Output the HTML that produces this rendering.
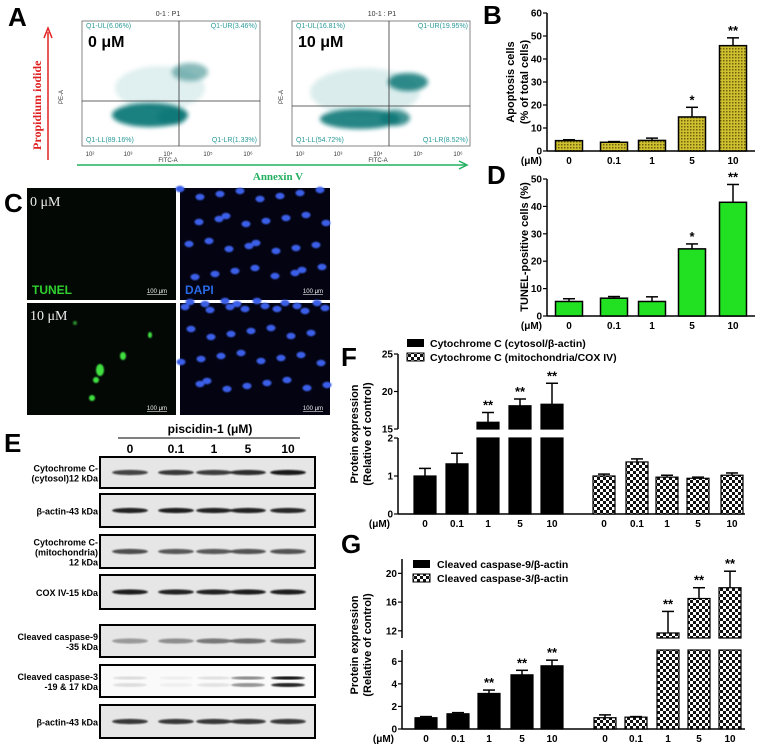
<!DOCTYPE html>
<html><head><meta charset="utf-8"><style>
html,body{margin:0;padding:0;background:#fff}
svg{display:block;font-family:"Liberation Sans",sans-serif}
</style></head><body>
<svg id="fig" width="759" height="746" viewBox="0 0 759 746" xmlns="http://www.w3.org/2000/svg">
<defs>
<pattern id="olive" width="3" height="3" patternUnits="userSpaceOnUse"><rect width="3" height="3" fill="#cfc030"/><rect width="1.5" height="1.5" fill="#6e620c"/></pattern>
<pattern id="check" width="6" height="6" patternUnits="userSpaceOnUse"><rect width="6" height="6" fill="#fff"/><rect width="3" height="3" fill="#111"/><rect x="3" y="3" width="3" height="3" fill="#111"/></pattern>
<filter id="blur2"><feGaussianBlur stdDeviation="2"/></filter>
<filter id="blur1"><feGaussianBlur stdDeviation="0.8"/></filter>
</defs>

<!-- Panel A -->
<g>
<text x="8" y="26" font-size="26" font-weight="bold">A</text>
<line x1="48" y1="160" x2="48" y2="32" stroke="#e02020" stroke-width="1.5"/>
<path d="M44,38 L48,28 L52,38" fill="none" stroke="#e02020" stroke-width="1.5"/>
<text transform="translate(41,150) rotate(-90)" font-family="Liberation Serif,serif" font-size="12" font-weight="bold" fill="#e02020">Propidium  iodide</text>
<line x1="77" y1="165" x2="465" y2="165" stroke="#22b060" stroke-width="1.5"/>
<path d="M459,161 L467,165 L459,169" fill="none" stroke="#22b060" stroke-width="1.5"/>
<text x="278" y="180" text-anchor="middle" font-family="Liberation Serif,serif" font-size="11" font-weight="bold" fill="#22b060">Annexin V</text>

<g>
<text x="168" y="16" text-anchor="middle" font-size="7" fill="#333">0-1 : P1</text>
<rect x="82" y="21" width="178" height="125" fill="#fff" stroke="#666" stroke-width="0.8"/>
<g filter="url(#blur2)" fill="#107878">
<ellipse cx="160" cy="88" rx="45" ry="22" opacity="0.12"/>
<ellipse cx="150" cy="115" rx="38" ry="12" opacity="0.95"/>
<ellipse cx="172" cy="117" rx="14" ry="8" opacity="0.8"/>
<ellipse cx="190" cy="72" rx="18" ry="9" opacity="0.5"/>
</g>
<line x1="179" y1="21" x2="179" y2="146" stroke="#333" stroke-width="0.8"/>
<line x1="82" y1="101" x2="260" y2="101" stroke="#333" stroke-width="0.8"/>
<text x="86" y="28" font-size="7" fill="#2a9a9a">Q1-UL(6.06%)</text>
<text x="257" y="28" font-size="7" fill="#2a9a9a" text-anchor="end">Q1-UR(3.46%)</text>
<text x="86" y="142" font-size="7" fill="#2a9a9a">Q1-LL(89.16%)</text>
<text x="257" y="142" font-size="7" fill="#2a9a9a" text-anchor="end">Q1-LR(1.33%)</text>
<text x="88" y="47" font-size="16" font-weight="bold">0 μM</text>
<text transform="translate(63,104) rotate(-90)" font-size="6" fill="#333">PE-A</text>
<g font-size="6" fill="#333" text-anchor="middle"><text x="90" y="156">10²</text><text x="128" y="156">10³</text><text x="168" y="156">10⁴</text><text x="208" y="156">10⁵</text><text x="248" y="156">10⁶</text><text x="168" y="162">FITC-A</text></g>
</g>

<g>
<text x="382" y="16" text-anchor="middle" font-size="7" fill="#333">10-1 : P1</text>
<rect x="292" y="21" width="178" height="125" fill="#fff" stroke="#666" stroke-width="0.8"/>
<g filter="url(#blur2)" fill="#107878">
<ellipse cx="365" cy="92" rx="55" ry="24" opacity="0.14"/>
<ellipse cx="360" cy="119" rx="40" ry="10" opacity="0.9"/>
<ellipse cx="395" cy="118" rx="15" ry="8" opacity="0.8"/>
<ellipse cx="408" cy="82" rx="20" ry="9" opacity="0.85"/>
</g>
<line x1="389" y1="21" x2="389" y2="146" stroke="#333" stroke-width="0.8"/>
<line x1="292" y1="106" x2="470" y2="106" stroke="#333" stroke-width="0.8"/>
<text x="296" y="28" font-size="7" fill="#2a9a9a">Q1-UL(16.81%)</text>
<text x="468" y="28" font-size="7" fill="#2a9a9a" text-anchor="end">Q1-UR(19.95%)</text>
<text x="296" y="142" font-size="7" fill="#2a9a9a">Q1-LL(54.72%)</text>
<text x="468" y="142" font-size="7" fill="#2a9a9a" text-anchor="end">Q1-LR(8.52%)</text>
<text x="298" y="47" font-size="16" font-weight="bold">10 μM</text>
<text transform="translate(283,104) rotate(-90)" font-size="6" fill="#333">PE-A</text>
<g font-size="6" fill="#333" text-anchor="middle"><text x="300" y="156">10²</text><text x="338" y="156">10³</text><text x="378" y="156">10⁴</text><text x="418" y="156">10⁵</text><text x="458" y="156">10⁶</text><text x="378" y="162">FITC-A</text></g>
</g>
</g>

<!-- Panel C -->
<g>
<text x="4" y="212" font-size="26" font-weight="bold">C</text>
<rect x="27" y="188" width="149" height="112" fill="#030805"/>
<rect x="180" y="188" width="150" height="112" fill="#030312"/>
<rect x="27" y="303" width="149" height="112" fill="#030805"/>
<rect x="180" y="303" width="150" height="112" fill="#030312"/>
<g id="nuclei" fill="#3a5ee8" filter="url(#blur1)"></g>
<g fill="#40e040" filter="url(#blur1)">
<ellipse cx="100" cy="370" rx="4" ry="6"/><ellipse cx="96" cy="380" rx="3" ry="3"/><ellipse cx="123" cy="356" rx="3" ry="4"/><ellipse cx="150" cy="335" rx="2" ry="3"/><ellipse cx="92" cy="398" rx="3" ry="3"/><ellipse cx="75" cy="323" rx="2" ry="2" opacity="0.6"/>
</g>
<text x="30" y="206" font-family="Liberation Serif,serif" font-size="14" fill="#eee">0 μM</text>
<text x="30" y="320" font-family="Liberation Serif,serif" font-size="14" fill="#eee">10 μM</text>
<text x="32" y="294" font-size="12" font-weight="bold" fill="#30d030">TUNEL</text>
<text x="185" y="294" font-size="12" font-weight="bold" fill="#2a6ae8">DAPI</text>
<g font-size="6" fill="#eee" text-anchor="middle" text-decoration="underline">
<text x="157" y="293">100 μm</text><text x="313" y="293">100 μm</text><text x="157" y="410">100 μm</text><text x="313" y="410">100 μm</text></g>
</g>

<!-- Panel E -->
<g>
<text x="4" y="452" font-size="26" font-weight="bold">E</text>
<text x="210" y="433" text-anchor="middle" font-size="12" font-weight="bold">piscidin-1  (μM)</text>
<line x1="118" y1="438" x2="300" y2="438" stroke="#000" stroke-width="1"/>
<g font-size="12" font-weight="bold" text-anchor="middle"><text x="130" y="453">0</text><text x="176" y="453">0.1</text><text x="214" y="453">1</text><text x="248" y="453">5</text><text x="288" y="453">10</text></g>
<g id="blots"></g>
</g>

<!-- Panel B / D / F / G -->
<g id="charts"></g>
</svg>

<script>
// ---------- data ----------
const doseLabels = ["0","0.1","1","5","10"];
const apoptosisVals = [4.5, 3.8, 4.6, 14.8, 45.8];
const apoptosisErr  = [0.4, 0.3, 1.0, 4.2, 3.4];
const apoptosisSig  = ["","","","*","**"];
const tunelVals = [5.3, 6.5, 5.3, 24.5, 41.5];
const tunelErr  = [1.0, 0.6, 1.7, 1.8, 6.5];
const tunelSig  = ["","","","*","**"];
const cytoCytosolVals = [1.0, 1.32, 15.9, 18.1, 18.3];
const cytoCytosolErr  = [0.2, 0.28, 1.3, 0.9, 2.8];
const cytoCytosolSig  = ["","","**","**","**"];
const cytoMitoVals = [1.0, 1.37, 0.97, 0.94, 1.02];
const cytoMitoErr  = [0.05, 0.08, 0.05, 0.03, 0.06];
const casp9Vals = [1.0, 1.35, 3.15, 4.8, 5.6];
const casp9Err  = [0.1, 0.1, 0.3, 0.4, 0.5];
const casp9Sig  = ["","","**","**","**"];
const casp3Vals = [1.0, 1.05, 11.7, 16.5, 18.0];
const casp3Err  = [0.25, 0.05, 3.0, 1.5, 2.3];
const casp3Sig  = ["","","**","**","**"];
const ticksB = [0,10,20,30,40,50,60];
const ticksD = [0,10,20,30,40,50];
const ticksFLow = [0,1,2];
const ticksFHigh = [15,20,25];
const ticksGLow = [0,2,4,6];
const ticksGHigh = [12,16,20];
const blotLabels = [["Cytochrome C-","(cytosol)12 kDa"],["β-actin-43 kDa"],["Cytochrome C-","(mitochondria)","12 kDa"],["COX IV-15 kDa"],["Cleaved caspase-9","-35 kDa"],["Cleaved caspase-3","-19 & 17 kDa"],["β-actin-43 kDa"]];
const bandIntensity = [[0.75,0.8,0.78,0.85,0.95],[0.9,0.92,0.9,0.9,0.88],[0.7,0.65,0.65,0.68,0.68],[0.92,0.9,0.9,0.92,0.92],[0.35,0.4,0.5,0.55,0.55],[0.12,0.05,0.1,0.45,0.95],[0.8,0.8,0.8,0.8,0.8]];

const NS="http://www.w3.org/2000/svg";
const charts=document.getElementById('charts');
function el(tag,attrs,parent,text){const e=document.createElementNS(NS,tag);for(const k in attrs)e.setAttribute(k,attrs[k]);if(text!==undefined)e.textContent=text;(parent||charts).appendChild(e);return e;}

function simpleChart(name,vals,errs,sig,ticks,fill,x0,yBase,yTop,vmax,centers,bw){
  const g=el('g',{});
  
  
  const y=v=>yBase-(v/vmax)*(yBase-yTop);
  el('line',{x1:x0,y1:yTop,x2:x0,y2:yBase,stroke:'#000','stroke-width':1.5},g);
  el('line',{x1:x0,y1:yBase,x2:755,y2:yBase,stroke:'#000','stroke-width':1.5},g);
  ticks.forEach(t=>{el('line',{x1:x0-4,y1:y(t),x2:x0,y2:y(t),stroke:'#000','stroke-width':1.2},g);
    el('text',{x:x0-5,y:y(t)+3.5,'text-anchor':'end','font-size':10,'font-weight':'bold'},g,String(t));});
  vals.forEach((v,i)=>{
    const cx=centers[i];
    el('line',{x1:cx,y1:y(v),x2:cx,y2:y(v+errs[i]),stroke:'#000','stroke-width':1.5},g);
    el('line',{x1:cx-6,y1:y(v+errs[i]),x2:cx+6,y2:y(v+errs[i]),stroke:'#000','stroke-width':1.5},g);
    const r=el('rect',{x:cx-bw/2,y:y(v),width:bw,height:yBase-y(v),fill:fill,stroke:'#000','stroke-width':1.5},g);
    
    
    if(sig[i])el('text',{x:cx,y:y(v+errs[i])-3,'text-anchor':'middle','font-size':13,'font-weight':'bold'},g,sig[i]);
    el('text',{x:cx,y:yBase+13,'text-anchor':'middle','font-size':10,'font-weight':'bold'},g,doseLabels[i]);
  });
  el('text',{x:x0-5,y:yBase+13,'text-anchor':'end','font-size':10,'font-weight':'bold'},g,'(μM)');
  return g;
}
const centersB=[569,614,652,692,733];
el('text',{x:483,y:24,'font-size':26,'font-weight':'bold'},charts,'B');
const gB=simpleChart('apoptosis-chart',apoptosisVals,apoptosisErr,apoptosisSig,ticksB,'url(#olive)',547,151,13,60,centersB,27);
el('text',{transform:'translate(514,82) rotate(-90)','text-anchor':'middle','font-size':11,'font-weight':'bold'},gB,'Apoptosis cells');
el('text',{transform:'translate(528,82) rotate(-90)','text-anchor':'middle','font-size':11,'font-weight':'bold'},gB,'(% of total cells)');
el('text',{x:487,y:184,'font-size':26,'font-weight':'bold'},charts,'D');
const gD=simpleChart('tunel-chart',tunelVals,tunelErr,tunelSig,ticksD,'#22e022',547,316,179,50,centersB,27);
el('text',{transform:'translate(528,247) rotate(-90)','text-anchor':'middle','font-size':11,'font-weight':'bold'},gD,'TUNEL-positive cells (%)');

function brokenChart(name,s1,e1,sig1,s2,e2,sig2,cfg){
  const g=el('g',{});
  
  
  const {x0,lowB,lowT,lowMax,highB,highT,highMin,highMax,lowTicks,highTicks,c1,c2,bw,xEnd}=cfg;
  const y=v=> v<=lowMax ? lowB-(v/lowMax)*(lowB-lowT) : highB-((v-highMin)/(highMax-highMin))*(highB-highT);
  el('line',{x1:x0,y1:lowT,x2:x0,y2:lowB,stroke:'#000','stroke-width':1.5},g);
  el('line',{x1:x0,y1:highT,x2:x0,y2:highB,stroke:'#000','stroke-width':1.5},g);
  el('line',{x1:x0,y1:lowB,x2:xEnd,y2:lowB,stroke:'#000','stroke-width':1.5},g);
  lowTicks.concat(highTicks).forEach(t=>{el('line',{x1:x0-4,y1:y(t),x2:x0,y2:y(t),stroke:'#000','stroke-width':1.2},g);
    el('text',{x:x0-5,y:y(t)+3.5,'text-anchor':'end','font-size':10,'font-weight':'bold'},g,String(t));});
  function series(vals,errs,sig,centers,fill,tag){
    vals.forEach((v,i)=>{
      const cx=centers[i];const top=y(v+errs[i]);
      el('line',{x1:cx,y1:y(v),x2:cx,y2:top,stroke:'#000','stroke-width':1.5},g);
      el('line',{x1:cx-6,y1:top,x2:cx+6,y2:top,stroke:'#000','stroke-width':1.5},g);
      let r;
      if(v>lowMax){
        el('rect',{x:cx-bw/2,y:lowT,width:bw,height:lowB-lowT,fill:fill,stroke:'#000','stroke-width':1.2},g);
        r=el('rect',{x:cx-bw/2,y:y(v),width:bw,height:highB-y(v),fill:fill,stroke:'#000','stroke-width':1.2},g);
      } else r=el('rect',{x:cx-bw/2,y:y(v),width:bw,height:lowB-y(v),fill:fill,stroke:'#000','stroke-width':1.2},g);
      
      
      if(sig&&sig[i])el('text',{x:cx,y:top-3,'text-anchor':'middle','font-size':13,'font-weight':'bold'},g,sig[i]);
      el('text',{x:cx,y:lowB+13,'text-anchor':'middle','font-size':10,'font-weight':'bold'},g,doseLabels[i]);
    });
  }
  series(s1,e1,sig1,c1,'#000','s1');
  series(s2,e2,sig2,c2,'url(#check)','s2');
  el('text',{x:x0-8,y:lowB+13,'text-anchor':'end','font-size':10,'font-weight':'bold'},g,'(μM)');
  return g;
}
el('text',{x:341,y:366,'font-size':26,'font-weight':'bold'},charts,'F');
const gF=brokenChart('cytochrome-c-chart',cytoCytosolVals,cytoCytosolErr,cytoCytosolSig,cytoMitoVals,cytoMitoErr,null,
 {x0:398,lowB:514,lowT:438,lowMax:2,highB:429,highT:354,highMin:15,highMax:25,lowTicks:ticksFLow,highTicks:ticksFHigh,
  c1:[425,457,488,520,552],c2:[604,637,667,698,732],bw:22,xEnd:745});
el('text',{transform:'translate(358,434) rotate(-90)','text-anchor':'middle','font-size':11,'font-weight':'bold'},gF,'Protein expression');
el('text',{transform:'translate(371,434) rotate(-90)','text-anchor':'middle','font-size':11,'font-weight':'bold'},gF,'(Relative of control)');
el('rect',{x:407,y:339,width:17,height:8,fill:'#000'},gF);
el('rect',{x:407,y:353,width:17,height:8,fill:'url(#check)',stroke:'#000'},gF);
el('text',{x:430,y:347,'font-size':10.5,'font-weight':'bold'},gF,'Cytochrome C (cytosol/β-actin)');
el('text',{x:430,y:361,'font-size':10.5,'font-weight':'bold'},gF,'Cytochrome C (mitochondria/COX IV)');

el('text',{x:341,y:553,'font-size':26,'font-weight':'bold'},charts,'G');
const gG=brokenChart('caspase-chart',casp9Vals,casp9Err,casp9Sig,casp3Vals,casp3Err,casp3Sig,
 {x0:402,lowB:729,lowT:650,lowMax:7,highB:638,highT:559,highMin:11,highMax:22,lowTicks:ticksGLow,highTicks:ticksGHigh,
  c1:[426,458,489,522,552],c2:[605,636,668,699,730],bw:22,xEnd:745});
el('text',{transform:'translate(358,645) rotate(-90)','text-anchor':'middle','font-size':11,'font-weight':'bold'},gG,'Protein expression');
el('text',{transform:'translate(371,645) rotate(-90)','text-anchor':'middle','font-size':11,'font-weight':'bold'},gG,'(Relative of control)');
el('rect',{x:413,y:560,width:17,height:8,fill:'#000'},gG);
el('rect',{x:413,y:574,width:17,height:8,fill:'url(#check)',stroke:'#000'},gG);
el('text',{x:437,y:568,'font-size':10.5,'font-weight':'bold'},gG,'Cleaved caspase-9/β-actin');
el('text',{x:437,y:582,'font-size':10.5,'font-weight':'bold'},gG,'Cleaved caspase-3/β-actin');

const blots=document.getElementById('blots');
const boxY=[457,494,535,575,625,665,705], boxH=[31,33,33,34,32,32,33];
const laneX=[130,176,214,248,288];
blotLabels.forEach((lab,i)=>{
  const g=el('g',{},blots);
  
  
  el('rect',{x:100,y:boxY[i],width:215,height:boxH[i],fill:i===5?'#fafafa':'#e6e6e6',stroke:'#000','stroke-width':2},g);
  const cy=boxY[i]+boxH[i]/2;
  bandIntensity[i].forEach((a,j)=>{
    if(i===5){
      el('ellipse',{cx:laneX[j],cy:cy-3,rx:17,ry:1.6,fill:'#000',opacity:a,filter:'url(#blur1)'},g);
      el('ellipse',{cx:laneX[j],cy:cy+4,rx:17,ry:2,fill:'#000',opacity:a*0.9,filter:'url(#blur1)'},g);
    } else el('ellipse',{cx:laneX[j],cy:cy,rx:18,ry:2.6,fill:'#111',opacity:a,filter:'url(#blur1)'},g);
  });
  const n=lab.length;
  lab.forEach((t,k)=>el('text',{x:98,y:cy+4+(k-(n-1)/2)*10,'text-anchor':'end','font-size':9,'font-weight':'bold'},g,t));
});

// nuclei texture (image decoration)
const ng=document.getElementById('nuclei');
for(let r=0;r<9;r++){for(let c=0;c<8;c++){
  const ox=((r*37+c*53)%13)-6, oy=((r*29+c*41)%11)-5;
  const x=186+c*19+ox+(r%2)*8, yy=(r<4?194:306)+(r%4)*26+oy;
  if(x<328&&yy<(r<4?298:412)) el('ellipse',{cx:x,cy:yy,rx:4.5,ry:3.2,fill:'#3a5ee8'},ng);
}}
</script>
</body></html>
